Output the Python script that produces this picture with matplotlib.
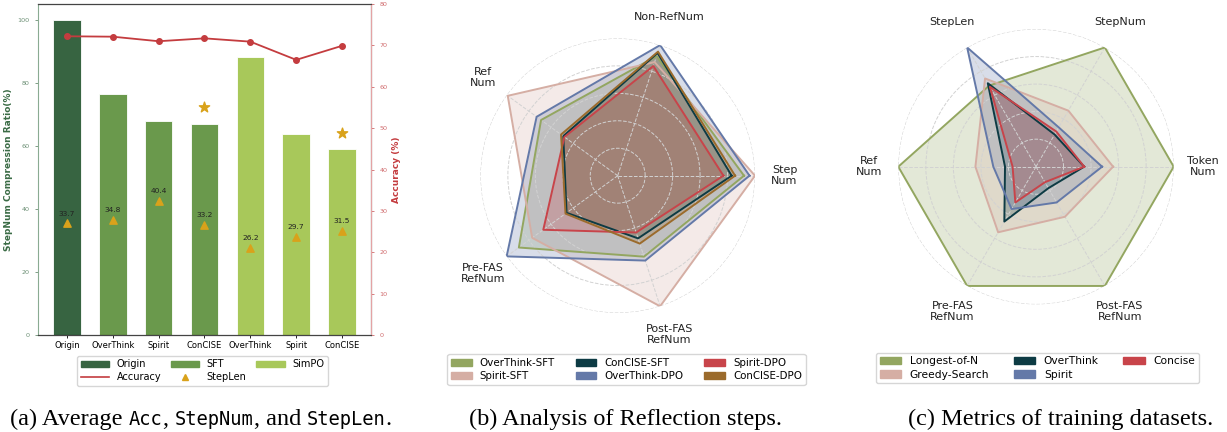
import numpy as np
import matplotlib
matplotlib.use("Agg")
import matplotlib.pyplot as plt
from matplotlib.patches import Patch
from matplotlib.lines import Line2D

W, H = 1227, 432
# ---------------- data ----------------
bar_labels = ["Origin", "OverThink", "Spirit", "ConCISE", "OverThink", "Spirit", "ConCISE"]
bar_groups = ["Origin", "SFT", "SFT", "SFT", "SimPO", "SimPO", "SimPO"]
compression = [100, 76.4, 67.8, 66.9, 88.3, 63.7, 59.0]
accuracy = [72.2, 72.1, 71.0, 71.7, 70.9, 66.5, 69.9]
steplen = [33.7, 34.8, 40.4, 33.2, 26.2, 29.7, 31.5]
star_idx = [3, 6]
star_vals = [72.3, 64.2]

radar_b_labels = ["Step\nNum", "Non-RefNum", "Ref\nNum", "Pre-FAS\nRefNum", "Post-FAS\nRefNum"]
radar_b_series = ["OverThink-SFT", "Spirit-SFT", "ConCISE-SFT", "OverThink-DPO", "Spirit-DPO", "ConCISE-DPO"]
overthink_sft = [0.92, 0.915, 0.69, 0.89, 0.62]
spirit_sft = [1.00, 0.87, 0.99, 0.77, 1.00]
concise_sft = [0.83, 0.94, 0.49, 0.46, 0.48]
overthink_dpo = [0.96, 1.00, 0.73, 1.00, 0.65]
spirit_dpo = [0.77, 0.84, 0.48, 0.67, 0.435]
concise_dpo = [0.855, 0.95, 0.51, 0.47, 0.52]

radar_c_labels = ["Token\nNum", "StepNum", "StepLen", "Ref\nNum", "Pre-FAS\nRefNum", "Post-FAS\nRefNum"]
radar_c_series = ["Longest-of-N", "Greedy-Search", "OverThink", "Spirit", "Concise"]
longest_of_n = [1.0, 1.0, 0.68, 1.0, 1.0, 1.0]
greedy_search = [0.56, 0.47, 0.74, 0.44, 0.55, 0.42]
overthink_c = [0.35, 0.27, 0.70, 0.225, 0.46, 0.18]
spirit_c = [0.48, 0.33, 1.00, 0.31, 0.355, 0.30]
concise_c = [0.35, 0.295, 0.67, 0.17, 0.30, 0.13]

# ---------------- styles ----------------
group_colors = {"Origin": "#376441", "SFT": "#6a994c", "SimPO": "#a8c85a"}
acc_color = "#c43c3f"
gold = "#d9a21b"
c_olive = "#93a660"
c_pink = "#d5aea4"
c_teal = "#0d3b44"
c_blue = "#6479a8"
c_red = "#c8444a"
c_brown = "#9b6b2c"

fig = plt.figure(figsize=(W / 100, H / 100), dpi=100)

def fr(x0, y0, x1, y1):
    return [x0 / W, 1 - y1 / H, (x1 - x0) / W, (y1 - y0) / H]

# ---------------- panel (a) ----------------
ax = fig.add_axes(fr(38, 4, 371, 335))
x = np.arange(len(bar_labels))
cols = [group_colors[g] for g in bar_groups]
ax.bar(x, compression, width=0.6, color=cols, edgecolor="#ffffff", linewidth=0.6, zorder=2)
ax.set_ylim(0, 105)
ax.set_yticks([0, 20, 40, 60, 80, 100])
ax.set_xticks(x)
ax.set_xticklabels(bar_labels, fontsize=6)
ax.tick_params(axis="y", labelsize=4.6, colors="#6b8f74", length=2.5, width=0.6)
ax.tick_params(axis="x", length=2.5, width=0.6, pad=2)
ax.set_ylabel("StepNum Compression Ratio(%)", fontsize=6.5, fontweight="bold", color="#3a6b45", labelpad=3)
ax.spines["left"].set_color("#8aab92")

ax2 = ax.twinx()
ax2.plot(x, accuracy, color=acc_color, marker="o", markersize=4, linewidth=1.3, zorder=3)
ax2.set_ylim(0, 80)
ax2.set_yticks(range(0, 81, 10))
ax2.tick_params(axis="y", labelsize=4.6, colors="#d06a6c", length=2.5, width=0.6)
ax2.set_ylabel("Accuracy (%)", fontsize=6.5, fontweight="bold", color=acc_color, labelpad=3)
ax2.spines["right"].set_color("#e4a3a4")
ax2.spines["left"].set_visible(False)
for s in ["top", "bottom"]:
    ax2.spines[s].set_color("#444444")

ax3 = ax.twinx()
ax3.set_ylim(0, 100)
ax3.axis("off")
ax3.scatter(x, steplen, marker="^", s=28, color=gold, zorder=4)
for xi, v in zip(x, steplen):
    ax3.annotate(f"{v}", (xi, v), xytext=(0, 5), textcoords="offset points",
                 ha="center", va="bottom", fontsize=5.4, color="#222222")
ax.scatter([x[i] for i in star_idx], star_vals, marker="*", s=60, color=gold, zorder=4)

h_a = [Patch(color=group_colors["Origin"]), Line2D([], [], color=acc_color, lw=1.2),
       Patch(color=group_colors["SFT"]), Line2D([], [], marker="^", color=gold, lw=0, markersize=5),
       Patch(color=group_colors["SimPO"])]
l_a = ["Origin", "Accuracy", "SFT", "StepLen", "SimPO"]
fig.legend(h_a, l_a, loc="upper center", bbox_to_anchor=(202.5 / W, 1 - 356 / H), ncol=3,
           fontsize=7, handlelength=2.9, columnspacing=1.0, borderaxespad=0, frameon=True,
           handletextpad=0.8, labelspacing=0.3, borderpad=0.35)

# ---------------- radar helper ----------------
def radar(cx, cy, R, labels, series, colors, names, lw=1.4):
    axr = fig.add_axes(fr(cx - R, cy - R, cx + R, cy + R), projection="polar")
    n = len(labels)
    ang = np.arange(n) * 2 * np.pi / n
    for vals, col, nm in zip(series, colors, names):
        a = np.append(ang, ang[0])
        v = np.append(vals, vals[0])
        axr.fill(a, v, color=col, alpha=0.25, zorder=1, lw=0)
        axr.plot(a, v, color=col, lw=lw, zorder=2, label=nm)
    axr.set_ylim(0, 1)
    axr.set_yticks([0.2, 0.4, 0.6, 0.8, 1.0])
    axr.set_yticklabels([])
    axr.set_xticks(ang)
    axr.set_xticklabels([])
    axr.set_axisbelow("line")
    axr.grid(True, color="#d2d2d2", linestyle="--", linewidth=0.7)
    axr.spines["polar"].set_visible(False)
    axr.tick_params(length=0)
    axr.patch.set_alpha(0)
    for a, lab in zip(ang, labels):
        axr.text(a, 1.215, lab, ha="center", va="center", fontsize=8, color="#222222",
                 linespacing=1.1, clip_on=False)
    return axr

cols_b = [c_olive, c_pink, c_teal, c_blue, c_red, c_brown]
radar(617.7, 175.7, 137.3, radar_b_labels,
      [overthink_sft, spirit_sft, concise_sft, overthink_dpo, spirit_dpo, concise_dpo],
      cols_b, radar_b_series)
h_b = [Patch(color=c) for c in cols_b]
fig.legend(h_b, radar_b_series, loc="upper center", bbox_to_anchor=(626.5 / W, 1 - 354.3 / H), ncol=3,
           fontsize=7.4, borderaxespad=0, handlelength=2.0, columnspacing=2.0, labelspacing=0.3,
           borderpad=0.35)

cols_c = [c_olive, c_pink, c_teal, c_blue, c_red]
radar(1036, 166.7, 137.7, radar_c_labels,
      [longest_of_n, greedy_search, overthink_c, spirit_c, concise_c],
      cols_c, radar_c_series)
h_c = [Patch(color=c) for c in cols_c]
fig.legend(h_c, radar_c_series, loc="upper center", bbox_to_anchor=(1037.5 / W, 1 - 352.7 / H), ncol=3,
           fontsize=7.7, borderaxespad=0, handlelength=2.0, columnspacing=2.3, labelspacing=0.3,
           borderpad=0.35)

# ---------------- captions ----------------
serif = "Liberation Serif"
mono = "DejaVu Sans Mono"
cap_fs = 17.5
mono_fs = 13.5
cap_y = 1 - 425 / H

def caption(parts, cx):
    fig.canvas.draw()
    r = fig.canvas.get_renderer()
    texts = []
    for s, is_mono in parts:
        t = fig.text(0, cap_y, s, family=mono if is_mono else serif,
                     fontsize=mono_fs if is_mono else cap_fs, ha="left", va="baseline")
        texts.append(t)
    widths = [t.get_window_extent(r).width for t in texts]
    total = sum(widths)
    xpos = cx - total / 2
    for t, w in zip(texts, widths):
        t.set_x(xpos / W)
        xpos += w

caption([("(a) Average\u00a0", False), ("Acc", True), (",\u00a0", False), ("StepNum", True),
         (",\u00a0and\u00a0", False), ("StepLen", True), (".", False)], 201)
caption([("(b) Analysis of Reflection steps.", False)], 625.5)
caption([("(c) Metrics of training datasets.", False)], 1061)

fig.savefig("out.png", dpi=100)
